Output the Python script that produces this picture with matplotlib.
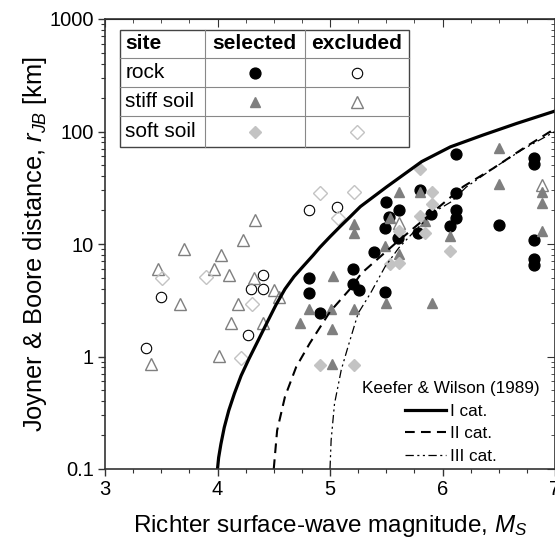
import matplotlib.pyplot as plt
from matplotlib.ticker import MultipleLocator, NullFormatter
from matplotlib.patches import Rectangle

plt.rcParams['font.family'] = ['Liberation Sans', 'DejaVu Sans']
plt.rcParams['mathtext.fontset'] = 'custom'
plt.rcParams['mathtext.rm'] = 'Liberation Sans'
plt.rcParams['mathtext.it'] = 'Liberation Sans:italic'
plt.rcParams['lines.scale_dashes'] = False

# --- data: surface-wave magnitude Ms and Joyner & Boore distance r_JB [km] ---
rock_sel_ms = [4.81, 4.81, 4.91, 5.20, 5.20, 5.26, 5.39, 5.49, 5.50, 5.52, 5.61, 5.60,
               5.49, 5.78, 5.80, 5.90, 6.07, 6.12, 6.12, 6.12, 6.12, 6.50, 6.81, 6.81,
               6.81, 6.81, 6.81]
rock_sel_r = [5.0, 3.7, 2.45, 5.96, 4.38, 3.9, 8.55, 13.8, 23.6, 17.5, 19.9, 11.4,
              3.77, 12.6, 30.5, 18.4, 14.5, 62.7, 28.3, 20.2, 17.1, 14.7, 58.5, 51.8,
              10.9, 7.3, 6.5]

rock_exc_ms = [3.36, 3.50, 4.27, 4.30, 4.40, 4.40, 4.81, 5.06]
rock_exc_r = [1.20, 3.40, 1.55, 4.0, 5.3, 4.0, 19.9, 21.3]

stiff_sel_ms = [4.73, 4.81, 5.01, 5.02, 5.03, 5.02, 5.21, 5.21, 5.21, 5.49, 5.50, 5.53,
                5.61, 5.61, 5.80, 5.84, 5.91, 6.07, 6.50, 6.50, 6.88, 6.88, 6.88]
stiff_sel_r = [1.97, 2.66, 2.66, 1.77, 5.2, 0.85, 2.66, 15.0, 12.6, 9.6, 3.0, 16.9,
               29.2, 8.1, 29.2, 16.0, 3.0, 11.8, 71.0, 34.4, 29.0, 23.3, 13.1]

stiff_exc_ms = [3.41, 3.47, 3.67, 3.70, 3.97, 4.03, 4.01, 4.10, 4.12, 4.18, 4.23, 4.33,
                4.32, 4.40, 4.50, 4.55, 5.61, 6.88]
stiff_exc_r = [0.86, 6.04, 2.94, 8.97, 6.04, 7.98, 1.01, 5.3, 2.0, 2.94, 10.8, 16.3,
               4.96, 1.97, 3.87, 3.4, 15.5, 33.5]

soft_sel_ms = [4.91, 5.21, 5.53, 5.61, 5.61, 5.80, 5.80, 5.84, 5.91, 5.91, 6.07]
soft_sel_r = [0.84, 0.84, 6.6, 6.8, 13.1, 46.1, 17.7, 12.6, 29.2, 22.8, 8.67]

soft_exc_ms = [3.51, 3.90, 4.21, 4.31, 4.91, 5.07, 5.21]
soft_exc_r = [5.01, 5.09, 0.975, 2.91, 28.3, 17.1, 29.2]

# Keefer & Wilson (1989) bounds
kw1_ms = [4.00, 4.01, 4.03, 4.06, 4.10, 4.15, 4.21, 4.28, 4.36, 4.44, 4.52, 4.60,
          4.68, 4.76, 4.85, 4.91, 5.00, 5.09, 5.18, 5.27, 5.50, 5.815, 6.07, 6.36,
          6.66, 7.00]
kw1_r = [0.10, 0.126, 0.166, 0.234, 0.331, 0.468, 0.676, 0.955, 1.38, 2.0, 2.88, 3.98,
         5.13, 6.31, 7.94, 9.33, 11.6, 14.3, 17.5, 21.5, 32.0, 54.0, 73.0, 93.0,
         118.0, 152.0]
kw2_ms = [4.50, 4.53, 4.60, 4.70, 4.82, 5.00, 5.18, 5.28, 5.58, 5.90, 6.185, 6.45,
          6.72, 7.00]
kw2_r = [0.10, 0.22, 0.44, 0.81, 1.31, 2.5, 4.0, 5.5, 10.1, 18.7, 32.4, 47.0,
         71.0, 106.0]
kw3_ms = [5.00, 5.01, 5.04, 5.10, 5.16, 5.25, 5.36, 5.49, 5.61, 5.76, 5.93, 6.08,
          6.21, 6.45, 6.72, 7.00]
kw3_r = [0.10, 0.18, 0.38, 0.76, 1.22, 2.42, 3.65, 6.3, 9.2, 13.3, 19.4, 23.8,
         32.0, 47.0, 70.0, 100.0]

GREY = '#7f7f7f'
LIGHT = '#c3c3c3'

fig = plt.figure(figsize=(5.55, 5.45), dpi=100)
ax = fig.add_axes([105 / 555, 76 / 545, 450 / 555, 450 / 545])
ax.set_yscale('log')
ax.set_xlim(3, 7)
ax.set_ylim(0.1, 1000)

# site markers
ax.plot(rock_sel_ms, rock_sel_r, 'o', ms=7.8, color='black', ls='none')
ax.plot(rock_exc_ms, rock_exc_r, 'o', ms=7.5, mfc='none', mec='black', mew=0.8, ls='none')
ax.plot(stiff_sel_ms, stiff_sel_r, '^', ms=7.6, color=GREY, ls='none')
ax.plot(stiff_exc_ms, stiff_exc_r, '^', ms=8.5, mfc='none', mec=GREY, mew=1.0, ls='none')
ax.plot(soft_sel_ms, soft_sel_r, 'D', ms=6.6, color=LIGHT, ls='none')
ax.plot(soft_exc_ms, soft_exc_r, 'D', ms=6.8, mfc='none', mec=LIGHT, mew=1.0, ls='none')

# Keefer & Wilson curves
l1, = ax.plot(kw1_ms, kw1_r, color='black', lw=2.3, label='I cat.')
l2, = ax.plot(kw2_ms, kw2_r, color='black', lw=1.5, dashes=(7, 4.5), label='II cat.')
l3, = ax.plot(kw3_ms, kw3_r, color='black', lw=0.9, dashes=(6, 2.5, 1.5, 2.5, 1.5, 2.5),
              label='III cat.')

leg = ax.legend(handles=[l1, l2, l3], title='Keefer & Wilson (1989)', loc='lower right',
                bbox_to_anchor=(1.0, -0.023), frameon=False, fontsize=12.3,
                title_fontsize=12.3, handlelength=2.4, handletextpad=0.2,
                labelspacing=0.45)

# axes, ticks
ax.set_xticks([3, 4, 5, 6, 7])
ax.xaxis.set_minor_locator(MultipleLocator(0.25))
ax.set_yticks([0.1, 1, 10, 100, 1000], ['0.1', '1', '10', '100', '1000'])
ax.yaxis.set_minor_formatter(NullFormatter())
ax.tick_params(which='both', direction='out', labelsize=14.5, color='#333333', pad=3)
ax.tick_params(which='major', length=5, width=1.0)
ax.tick_params(which='minor', length=3, width=0.8)
for sp in ax.spines.values():
    sp.set_color('#333333')
    sp.set_linewidth(1.2)

top = ax.secondary_xaxis('top')
top.set_xticks([3, 4, 5, 6, 7])
top.xaxis.set_minor_locator(MultipleLocator(0.25))
top.tick_params(which='both', direction='in', labeltop=False, color='#333333')
top.tick_params(which='major', length=6)
top.tick_params(which='minor', length=3)
right = ax.secondary_yaxis('right')
right.tick_params(which='both', direction='in', labelright=False, color='#333333')
right.tick_params(which='major', length=6)
right.tick_params(which='minor', length=3)

ax.set_xlabel('Richter surface-wave magnitude, $M_S$', fontsize=17.5, labelpad=10)
ax.set_ylabel('Joyner & Boore distance, $r_{JB}$ [km]', fontsize=18.3, labelpad=0)

# site / selected / excluded key table
tr = ax.transAxes
xs = [0.033, 0.222, 0.444, 0.676]
ys = [0.976, 0.913, 0.849, 0.784, 0.716]
ax.add_patch(Rectangle((xs[0], ys[-1]), xs[-1] - xs[0], ys[0] - ys[-1], transform=tr,
                       fc='white', ec='#444444', lw=1.0, zorder=5))
for y in ys[1:-1]:
    ax.plot([xs[0], xs[-1]], [y, y], transform=tr, color='#888888', lw=0.8, zorder=6)
for x in xs[1:-1]:
    ax.plot([x, x], [ys[0], ys[-1]], transform=tr, color='#888888', lw=0.8, zorder=6)

ax.text(xs[0] + 0.012, (ys[0] + ys[1]) / 2, 'site', transform=tr, fontsize=15,
        fontweight='bold', va='center', zorder=7)
ax.text((xs[1] + xs[2]) / 2, (ys[0] + ys[1]) / 2, 'selected', transform=tr, fontsize=15,
        fontweight='bold', va='center', ha='center', zorder=7)
ax.text((xs[2] + xs[3]) / 2, (ys[0] + ys[1]) / 2, 'excluded', transform=tr, fontsize=15,
        fontweight='bold', va='center', ha='center', zorder=7)

site_names = ['rock', 'stiff soil', 'soft soil']
sel_style = [dict(marker='o', ms=7.8, color='black'),
             dict(marker='^', ms=7.6, color=GREY),
             dict(marker='D', ms=6.6, color=LIGHT)]
exc_style = [dict(marker='o', ms=7.5, mfc='white', mec='black', mew=0.8),
             dict(marker='^', ms=8.5, mfc='white', mec=GREY, mew=1.0),
             dict(marker='D', ms=6.8, mfc='white', mec=LIGHT, mew=1.0)]
for i, name in enumerate(site_names):
    yc = (ys[i + 1] + ys[i + 2]) / 2
    ax.text(xs[0] + 0.012, yc, name, transform=tr, fontsize=15, va='center', zorder=7)
    ax.plot((xs[1] + xs[2]) / 2, yc, transform=tr, ls='none', zorder=7, **sel_style[i])
    ax.plot((xs[2] + xs[3]) / 2, yc, transform=tr, ls='none', zorder=7, **exc_style[i])

fig.savefig('out.png', dpi=100)
